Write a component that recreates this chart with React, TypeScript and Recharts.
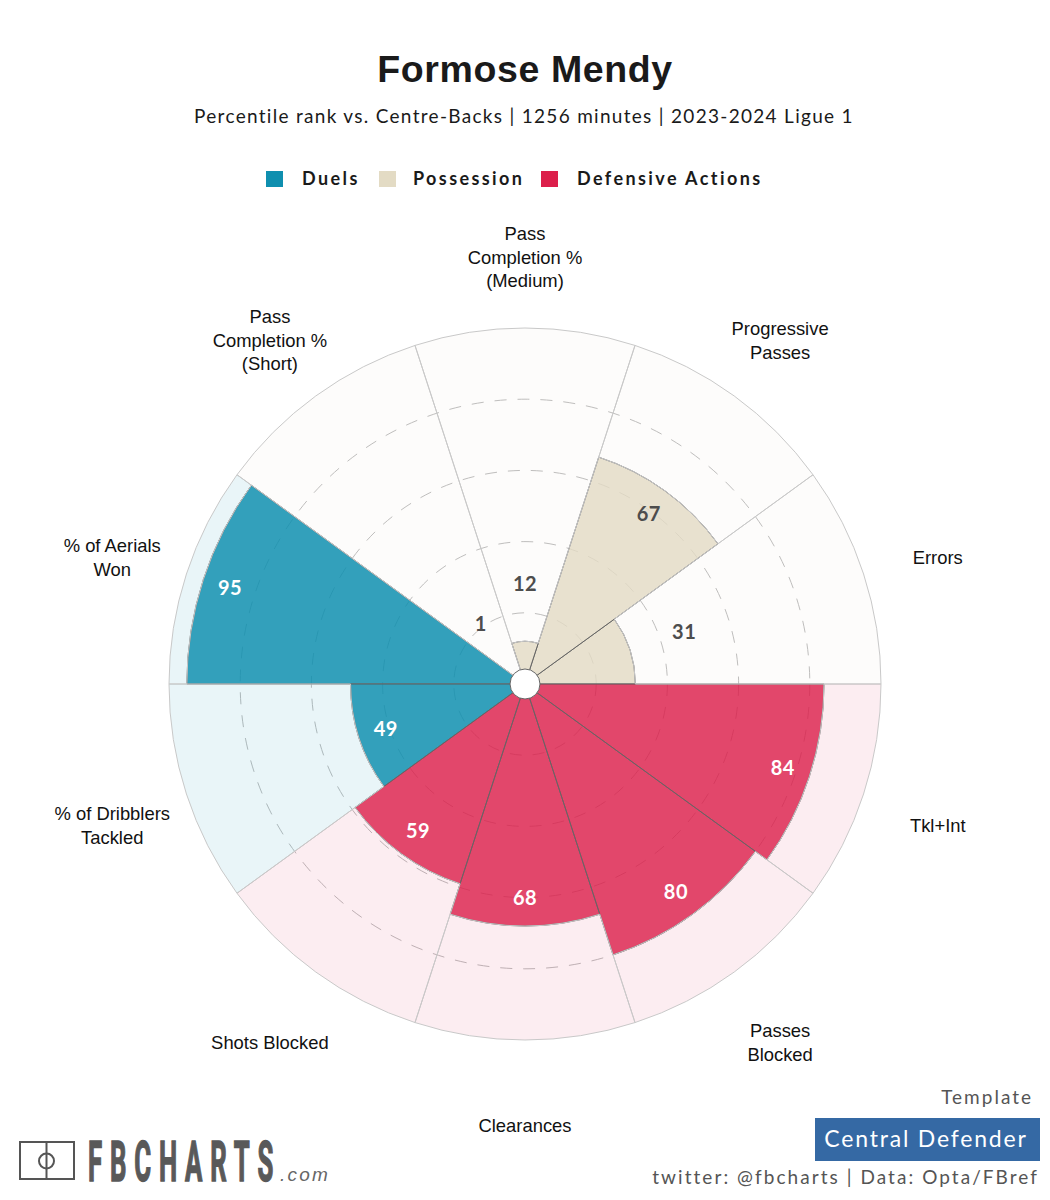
import React from "react";
import { RadialBarChart, RadialBar, PolarAngleAxis, PolarRadiusAxis, PolarGrid, Cell, LabelList } from "recharts";

const categories = [
  ["Errors"],
  ["Progressive", "Passes"],
  ["Pass", "Completion %", "(Medium)"],
  ["Pass", "Completion %", "(Short)"],
  ["% of Aerials", "Won"],
  ["% of Dribblers", "Tackled"],
  ["Shots Blocked"],
  ["Clearances"],
  ["Passes", "Blocked"],
  ["Tkl+Int"],
];
const percentiles = [31, 67, 12, 1, 95, 49, 59, 68, 80, 84];
const groups = [1, 1, 1, 1, 0, 0, 2, 2, 2, 2];
const groupNames = ["Duels", "Possession", "Defensive Actions"];
const groupColors = ["#0F8FAF", "#E3DBC4", "#DC1F4B"];
const groupFillOpacity = [0.85, 0.82, 0.82];
const groupRestOpacity = [0.09, 0.07, 0.08];
const gridValues = [20, 40, 60, 80];

const W = 1050, H = 1200, CX = 525, CY = 684, R = 356;
const table = categories.map((c, i) => ({
  name: c.join(" "),
  value: percentiles[i],
  rest: 100 - percentiles[i],
}));

const uiFont = "Lato, 'Noto Sans', sans-serif";
const labelFont = "'Liberation Sans', Arial, sans-serif";

function CategoryTick(props: any) {
  const i = props.index ?? props.payload?.index ?? 0;
  const a = ((18 + 36 * i) * Math.PI) / 180;
  const x = CX + 434 * Math.cos(a);
  const y = CY + 7.5 - 434 * Math.sin(a);
  const lines = categories[i];
  const top = y - ((lines.length - 1) * 23.5) / 2;
  return (
    <text x={x} textAnchor="middle" fontFamily={labelFont} fontSize={18.4} fill="#111">
      {lines.map((l, k) => (
        <tspan key={k} x={x} y={top + k * 23.5} dy="0.35em">{l}</tspan>
      ))}
    </text>
  );
}

function ValueLabel(props: any) {
  const { index, value } = props;
  const a = ((18 + 36 * index) * Math.PI) / 180;
  const rv = (value / 100) * R;
  const small = value < 40;
  const r = small ? Math.max(75, rv + 57) : rv - 28;
  return (
    <text
      x={CX + r * Math.cos(a)}
      y={CY - r * Math.sin(a)}
      dy="0.36em"
      textAnchor="middle"
      fontFamily={uiFont}
      fontWeight={700}
      fontSize={20}
      letterSpacing={0.5}
      fill={groups[index] === 1 ? "#4d4d4d" : "#ffffff"}
    >
      {value}
    </text>
  );
}

const legendX = [266, 379, 541];
const legendTextX = [302, 413, 577];

export default function App() {
  return (
    <div style={{ position: "absolute", left: 0, top: 0, width: W, height: H, background: "#fff" }}>
      <RadialBarChart
        width={W}
        height={H}
        cx={CX}
        cy={CY}
        innerRadius={0}
        outerRadius={R}
        startAngle={36}
        endAngle={396}
        layout="centric"
        data={table}
        barCategoryGap={0}
        barGap={0}
        margin={{ top: 0, right: 0, bottom: 0, left: 0 }}
        style={{ position: "absolute", left: 0, top: 0 }}
      >
        <PolarAngleAxis type="category" dataKey="name" tick={<CategoryTick />} tickLine={false} axisLine={false} />
        <PolarRadiusAxis type="number" domain={[0, 100]} tick={false} axisLine={false} tickLine={false} />
        <PolarGrid
          gridType="circle"
          radialLines={false}
          polarRadius={gridValues.map((v) => (v / 100) * R)}
          stroke="#bdbdbd"
          strokeDasharray="12 11"
        />
        <RadialBar dataKey="value" stackId="s" isAnimationActive={false}>
          {table.map((_, i) => (
            <Cell
              key={i}
              fill={groupColors[groups[i]]}
              fillOpacity={groupFillOpacity[groups[i]]}
              stroke="#666"
              strokeWidth={1}
            />
          ))}
          <LabelList dataKey="value" content={<ValueLabel />} />
        </RadialBar>
        <RadialBar dataKey="rest" stackId="s" isAnimationActive={false}>
          {table.map((_, i) => (
            <Cell
              key={i}
              fill={groupColors[groups[i]]}
              fillOpacity={groupRestOpacity[groups[i]]}
              stroke="#c9c9c9"
              strokeWidth={1}
            />
          ))}
        </RadialBar>
      </RadialBarChart>

      <svg width={W} height={H} style={{ position: "absolute", left: 0, top: 0, pointerEvents: "none" }}>
        <circle cx={CX} cy={CY} r={15} fill="#fff" stroke="#666" strokeWidth={1} />

        <text x={525} y={82} textAnchor="middle" fontFamily={labelFont} fontWeight={700} fontSize={37.5} letterSpacing={0.6} fill="#1a1a1a">
          Formose Mendy
        </text>
        <text x={524} y={123} textAnchor="middle" fontFamily={uiFont} fontSize={19} letterSpacing={1.3} fill="#1a1a1a">
          Percentile rank vs. Centre-Backs | 1256 minutes | 2023-2024 Ligue 1
        </text>

        {groupNames.map((n, i) => (
          <g key={n}>
            <rect x={legendX[i]} y={171} width={17} height={16} fill={groupColors[i]} />
            <text x={legendTextX[i]} y={185} fontFamily={uiFont} fontWeight={700} fontSize={18} letterSpacing={2.4} fill="#1a1a1a">
              {n}
            </text>
          </g>
        ))}

        <text x={1033} y={1104} textAnchor="end" fontFamily={uiFont} fontSize={19} letterSpacing={2} fill="#555">Template</text>
        <rect x={815} y={1118} width={225} height={43} fill="#3569A4" />
        <text x={926} y={1147} textAnchor="middle" fontFamily={uiFont} fontSize={23} letterSpacing={1.8} fill="#ffffff">Central Defender</text>
        <text x={1039} y={1184} textAnchor="end" fontFamily={uiFont} fontSize={19} letterSpacing={2.05} fill="#555">twitter: @fbcharts | Data: Opta/FBref</text>

        <rect x={20} y={1142} width={54} height={37} fill="none" stroke="#555" strokeWidth={2} />
        <line x1={46.5} y1={1142} x2={46.5} y2={1179} stroke="#555" strokeWidth={2} />
        <circle cx={46.5} cy={1161} r={7.5} fill="none" stroke="#555" strokeWidth={2} />
        <g transform="translate(88 1181) scale(0.46 1)">
          <text x={0} y={0} fontFamily="Roboto, sans-serif" fontWeight={700} fontSize={56} letterSpacing={17} stroke="#595959" strokeWidth={1.5} fill="#595959">FBCHARTS</text>
        </g>
        <text x={280} y={1181} fontFamily={labelFont} fontStyle="italic" fontSize={19} letterSpacing={2.2} fill="#666">.com</text>
      </svg>
    </div>
  );
}
